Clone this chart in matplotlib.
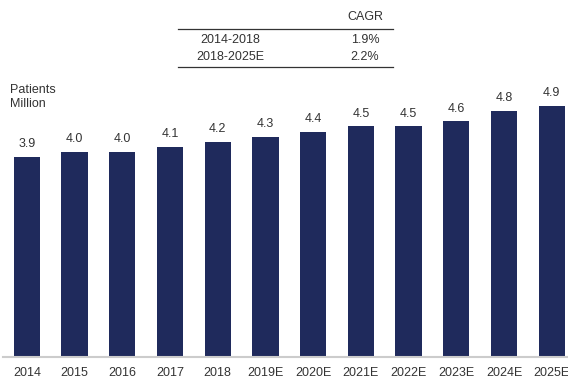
import matplotlib
matplotlib.use("Agg")
import matplotlib.pyplot as plt

years = ["2014", "2015", "2016", "2017", "2018", "2019E", "2020E",
         "2021E", "2022E", "2023E", "2024E", "2025E"]
patients = [3.9, 4.0, 4.0, 4.1, 4.2, 4.3, 4.4, 4.5, 4.5, 4.6, 4.8, 4.9]

periods = ["2014-2018", "2018-2025E"]
cagr = ["1.9%", "2.2%"]

plt.rcParams['font.family'] = ['Liberation Sans', 'DejaVu Sans']
txt = "#333333"

fig = plt.figure(figsize=(5.68, 3.78), dpi=100)
ax = fig.add_axes([3 / 568, 21 / 378, 565 / 568, 357 / 378])

x = list(range(len(years)))
ax.bar(x, patients, width=0.55, color="#1f2a5c")
for xi, v in zip(x, patients):
    ax.text(xi, v + 0.13, f"{v:.1f}", ha="center", va="bottom", fontsize=9, color=txt)

ax.set_xlim(-0.5, 11.34)
ax.set_ylim(0, 357 / 51.25)
ax.set_xticks(x)
ax.set_xticklabels(years, fontsize=9, color=txt)
ax.tick_params(axis="x", length=0, pad=7)
ax.set_yticks([])
for s in ["top", "right", "left"]:
    ax.spines[s].set_visible(False)
ax.spines["bottom"].set_color("#cccccc")
ax.spines["bottom"].set_linewidth(1.5)

# unit label
fig.text(10 / 568, 1 - 90 / 378, "Patients", fontsize=9, color=txt, va="center")
fig.text(10 / 568, 1 - 104 / 378, "Million", fontsize=9, color=txt, va="center")

# CAGR table
fig.text(365 / 568, 1 - 17 / 378, "CAGR", fontsize=9, color=txt, ha="center", va="center")
fig.add_artist(plt.Line2D([178 / 568, 393 / 568], [1 - 29 / 378, 1 - 29 / 378], color="#333333", lw=0.9))
for i, (p, c) in enumerate(zip(periods, cagr)):
    yy = 1 - (40 + 17 * i) / 378
    fig.text(230 / 568, yy, p, fontsize=9, color=txt, ha="center", va="center")
    fig.text(365 / 568, yy, c, fontsize=9, color=txt, ha="center", va="center")
fig.add_artist(plt.Line2D([178 / 568, 393 / 568], [1 - 67 / 378, 1 - 67 / 378], color="#333333", lw=0.9))

fig.savefig("out.png", dpi=100)
